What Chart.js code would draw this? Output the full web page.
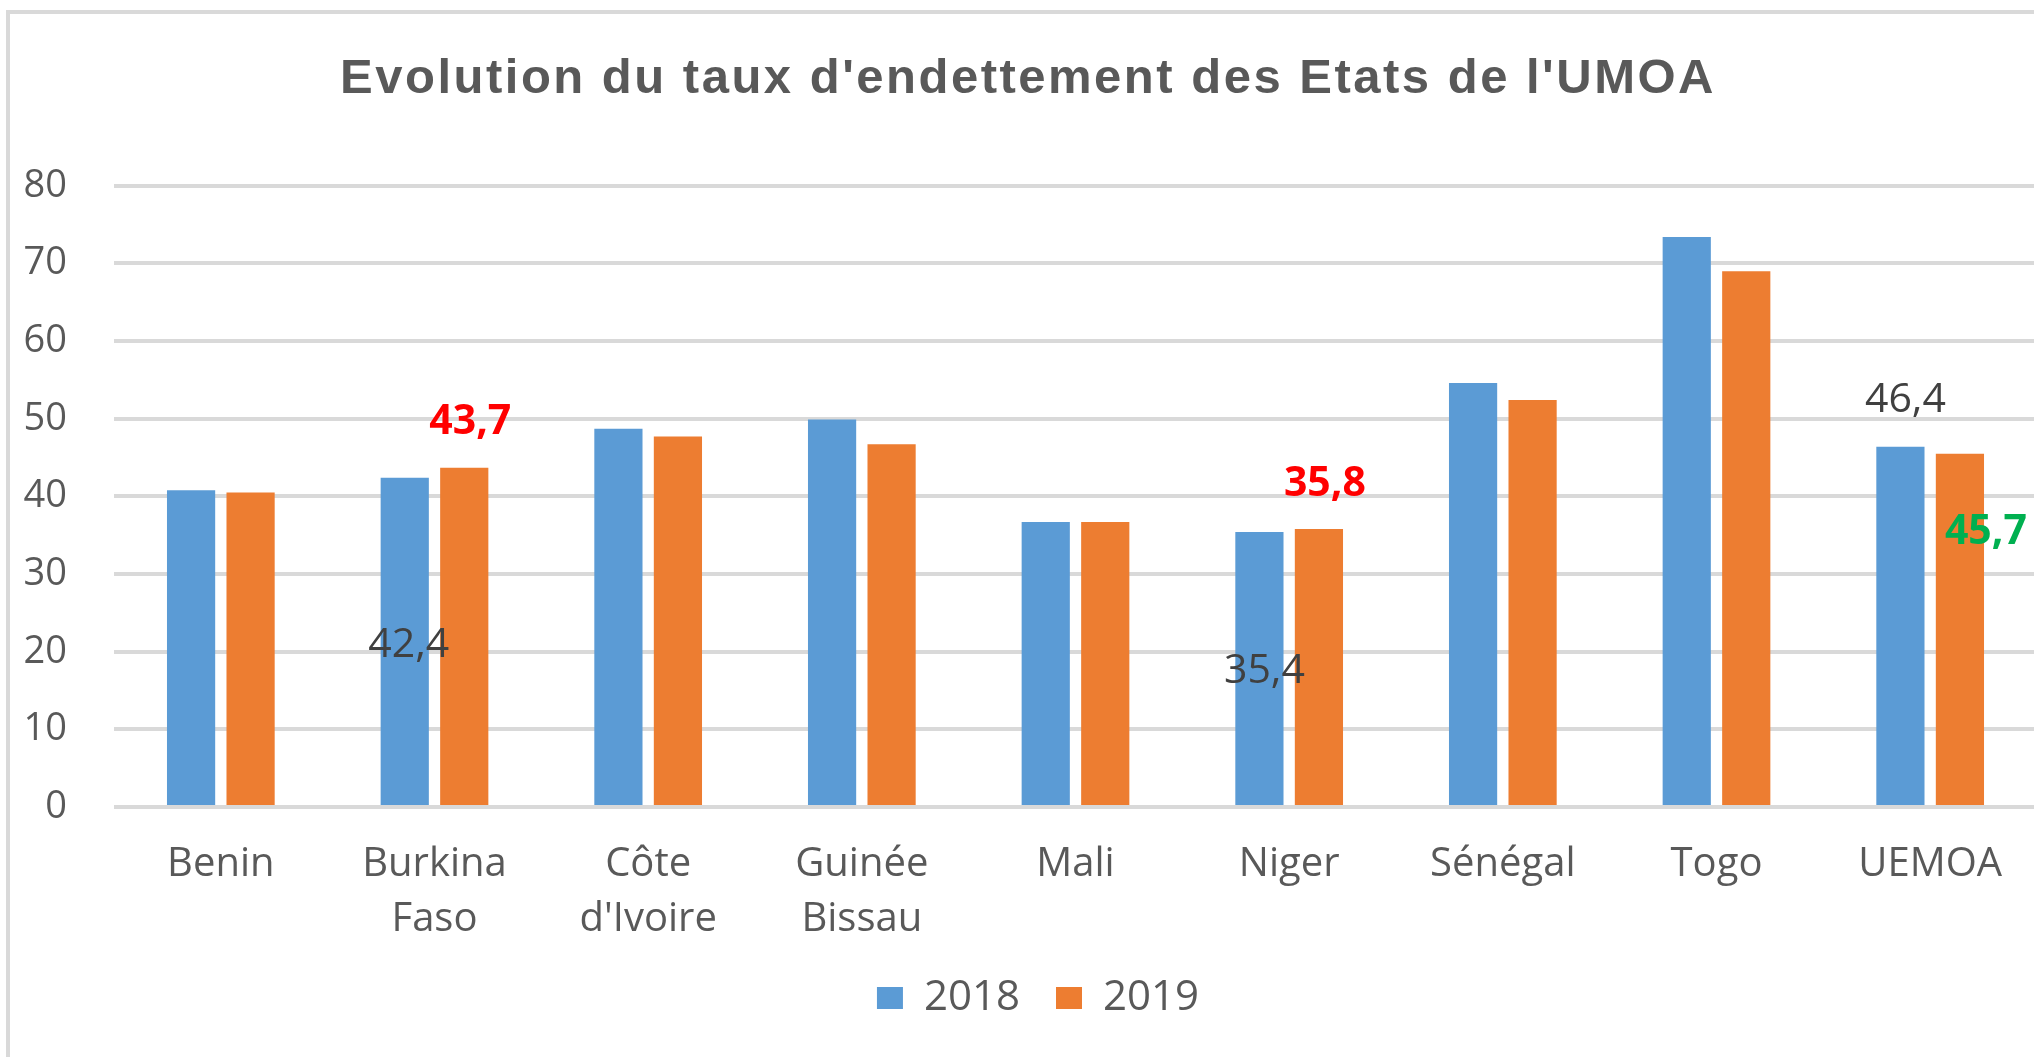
<!DOCTYPE html>
<html><head><meta charset="utf-8">
<script src="https://cdn.jsdelivr.net/npm/chart.js@4"></script>
<style>
html,body{margin:0;padding:0;background:#fff;overflow:hidden;width:2034px;height:1057px;position:relative;}
#frame{position:absolute;left:6px;top:10px;width:2200px;height:1200px;border-left:4px solid #d9d9d9;border-top:4px solid #d9d9d9;}
#c{position:absolute;left:0;top:0;}
</style></head><body>
<div id="frame"></div>
<canvas id="c" width="2056" height="1057"></canvas>
<script>
const chartTitle = "Evolution du taux d'endettement des Etats de l'UMOA";
const categories = ['Benin', ['Burkina', 'Faso'], ['Côte', "d'Ivoire"], ['Guinée', 'Bissau'], 'Mali', 'Niger', 'Sénégal', 'Togo', 'UEMOA'];
const seriesNames = ['2018', '2019'];
const values2018 = [40.8, 42.4, 48.7, 49.9, 36.7, 35.4, 54.6, 73.4, 46.4];
const values2019 = [40.5, 43.7, 47.7, 46.7, 36.7, 35.8, 52.4, 69.0, 45.5];
const yTickValues = [0, 10, 20, 30, 40, 50, 60, 70, 80];
const calloutTexts = ['42,4', '43,7', '35,4', '35,8', '46,4', '45,7'];
const calloutSeries = [0, 1, 0, 1, 0, 1];
const calloutIndex = [1, 1, 5, 5, 8, 8];

const calloutStyles = [
  {color: '#404040', weight: 'normal', dx: 4, dy: 168},
  {color: '#FF0000', weight: 'bold', dx: 6, dy: -45},
  {color: '#404040', weight: 'normal', dx: 5, dy: 139},
  {color: '#FF0000', weight: 'bold', dx: 6, dy: -45},
  {color: '#404040', weight: 'normal', dx: 5, dy: -46},
  {color: '#00B050', weight: 'bold', dx: 26, dy: 79}
];

const calloutPlugin = {
  id: 'callouts',
  afterDatasetsDraw(chart) {
    const ctx = chart.ctx;
    ctx.save();
    ctx.textAlign = 'center';
    ctx.textBaseline = 'middle';
    calloutTexts.forEach((t, i) => {
      const el = chart.getDatasetMeta(calloutSeries[i]).data[calloutIndex[i]];
      const st = calloutStyles[i];
      ctx.font = st.weight + ' 41px "Open Sans"';
      ctx.fillStyle = st.color;
      ctx.fillText(t, el.x + st.dx, el.y + st.dy);
    });
    ctx.restore();
  }
};

const chart = new Chart(document.getElementById('c'), {
  type: 'bar',
  data: {
    labels: categories,
    datasets: [
      {label: seriesNames[0], data: values2018, backgroundColor: '#5B9BD5', barPercentage: 0.81, categoryPercentage: 0.557},
      {label: seriesNames[1], data: values2019, backgroundColor: '#ED7D31', barPercentage: 0.81, categoryPercentage: 0.557}
    ]
  },
  options: {
    responsive: false,
    animation: false,
    layout: {padding: {left: 19, right: 19, top: 0, bottom: 28}},
    plugins: {
      title: {
        display: true, text: chartTitle, color: '#595959',
        font: {family: '"Liberation Sans", Arial', size: 49, weight: 'bold'},
        padding: {top: 50, bottom: 77}
      },
      legend: {
        position: 'bottom',
        labels: {
          boxWidth: 26, boxHeight: 22, color: '#595959', padding: 36,
          font: {family: '"Open Sans"', size: 42}
        }
      },
      tooltip: {enabled: false}
    },
    scales: {
      x: {
        afterFit(scale) { scale.height = 134; },
        grid: {display: false, drawTicks: false},
        border: {display: false},
        ticks: {color: '#595959', font: {family: '"Open Sans"', size: 40, lineHeight: '55px'}, padding: 30, maxRotation: 0, autoSkip: false}
      },
      y: {
        min: 0, max: 80,
        afterFit(scale) { scale.width = 95; },
        afterBuildTicks(scale) { scale.ticks = yTickValues.map(v => ({value: v})); },
        grid: {color: '#d9d9d9', lineWidth: 4, drawTicks: false},
        border: {display: false},
        ticks: {color: '#595959', font: {family: '"Open Sans"', size: 38}, padding: 47}
      }
    }
  },
  plugins: [calloutPlugin]
});

// wider letter spacing for the title, as in the reference
const tb = chart.titleBlock;
const origTitleDraw = tb.draw.bind(tb);
tb.draw = function (area) {
  const ctx = chart.ctx;
  ctx.save();
  ctx.letterSpacing = '2.5px';
  origTitleDraw(area);
  ctx.restore();
};
// legend sits slightly right of centre in the reference
const lg = chart.legend;
const origLegendDraw = lg.draw.bind(lg);
lg.draw = function (area) {
  const ctx = chart.ctx;
  ctx.save();
  ctx.translate(10, 0);
  origLegendDraw(area);
  ctx.restore();
};
chart.draw();
</script>
</body></html>
